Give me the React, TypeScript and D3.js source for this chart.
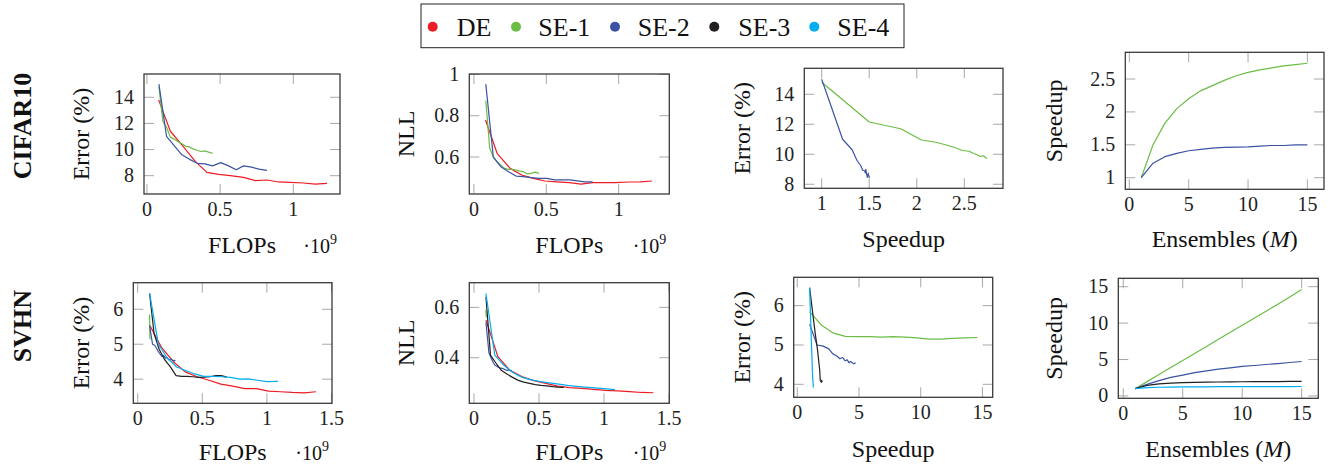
import React from "react";
import * as d3 from "d3";

// ---------- data ----------
const seriesNames = ["DE", "SE-1", "SE-2", "SE-3", "SE-4"];
const seriesColors = ["#ed1c24", "#6abd45", "#3a53a4", "#231f20", "#00aeef"];
const ensembles = [1, 2, 3, 4, 5, 6, 7, 8, 9, 10, 11, 12, 13, 14, 15];

// CIFAR10
const c10DeFlops = [0.08, 0.16, 0.25, 0.33, 0.41, 0.49, 0.57, 0.66, 0.74, 0.82, 0.9, 0.98, 1.07, 1.15, 1.23];
const c10DeErr = [13.8, 11.4, 10.2, 9.1, 8.25, 8.1, 8.0, 7.87, 7.62, 7.67, 7.52, 7.49, 7.44, 7.36, 7.41];
const c10DeNll = [0.779, 0.618, 0.545, 0.513, 0.497, 0.484, 0.48, 0.476, 0.469, 0.476, 0.476, 0.476, 0.479, 0.48, 0.484];

const c10Se1Speedup = [1, 1.5, 1.83, 2.05, 2.2, 2.32, 2.4, 2.48, 2.55, 2.6, 2.64, 2.67, 2.7, 2.72, 2.74];
const c10Se1Flops = [0.082, 0.109, 0.134, 0.16, 0.186, 0.212, 0.239, 0.265, 0.29, 0.315, 0.342, 0.369, 0.395, 0.422, 0.45];
const c10Se1Err = [14.8, 12.15, 11.7, 10.95, 10.8, 10.6, 10.45, 10.25, 10.2, 10.05, 9.95, 9.85, 9.9, 9.8, 9.72];
const c10Se1Nll = [0.873, 0.642, 0.6, 0.577, 0.561, 0.545, 0.54, 0.54, 0.537, 0.532, 0.529, 0.518, 0.521, 0.527, 0.521];

const c10Se2Speedup = [1, 1.22, 1.32, 1.37, 1.41, 1.43, 1.45, 1.46, 1.465, 1.47, 1.48, 1.49, 1.49, 1.5, 1.5];
const c10Se2Flops = [0.082, 0.134, 0.186, 0.239, 0.291, 0.344, 0.396, 0.449, 0.504, 0.558, 0.61, 0.66, 0.715, 0.766, 0.82];
const c10Se2Err = [15.0, 11.0, 10.3, 9.6, 9.25, 8.95, 8.9, 8.75, 9.0, 8.75, 8.45, 8.75, 8.65, 8.5, 8.41];
const c10Se2Nll = [0.953, 0.6, 0.553, 0.529, 0.508, 0.505, 0.5, 0.497, 0.497, 0.489, 0.489, 0.489, 0.485, 0.48, 0.48];

// SVHN
const svDeFlops = [0.092, 0.184, 0.276, 0.368, 0.46, 0.552, 0.644, 0.736, 0.828, 0.92, 1.012, 1.104, 1.196, 1.288, 1.38];
const svDeErr = [5.55, 4.91, 4.5, 4.21, 4.07, 3.97, 3.86, 3.8, 3.73, 3.73, 3.66, 3.64, 3.62, 3.61, 3.64];
const svDeNll = [0.55, 0.404, 0.35, 0.325, 0.309, 0.298, 0.287, 0.281, 0.278, 0.274, 0.27, 0.268, 0.265, 0.262, 0.261];

const svSe1Speedup = [1, 1.97, 2.94, 3.9, 4.87, 5.84, 6.8, 7.77, 8.74, 9.7, 10.67, 11.64, 12.6, 13.57, 14.6];
const svSe1Flops = [0.092, 0.0934, 0.0939, 0.0944, 0.0944, 0.0945, 0.0947, 0.0947, 0.0947, 0.0948, 0.0948, 0.0948, 0.0949, 0.0949, 0.0945];
const svSe1Err = [5.85, 5.5, 5.3, 5.22, 5.21, 5.21, 5.2, 5.21, 5.2, 5.18, 5.15, 5.15, 5.17, 5.18, 5.19];
const svSe1Nll = [0.59, 0.575, 0.57, 0.567, 0.565, 0.565, 0.564, 0.564, 0.563, 0.563, 0.563, 0.563, 0.563, 0.563, 0.563];

const svSe2Speedup = [1, 1.6, 2.1, 2.55, 2.86, 3.2, 3.45, 3.68, 3.86, 4.05, 4.18, 4.32, 4.45, 4.59, 4.73];
const svSe2Flops = [0.092, 0.115, 0.131, 0.144, 0.161, 0.173, 0.187, 0.2, 0.215, 0.227, 0.242, 0.256, 0.269, 0.281, 0.292];
const svSe2Err = [5.53, 5.0, 4.97, 4.9, 4.78, 4.72, 4.65, 4.68, 4.6, 4.62, 4.55, 4.58, 4.55, 4.52, 4.55];
const svSe2Nll = [0.54, 0.42, 0.4, 0.385, 0.37, 0.367, 0.362, 0.36, 0.358, 0.356, 0.352, 0.35, 0.352, 0.348, 0.35];

const svSe3Speedup = [1, 1.45, 1.65, 1.75, 1.82, 1.86, 1.89, 1.92, 1.94, 1.95, 1.96, 1.97, 1.98, 1.99, 2.0];
const svSe3Flops = [0.092, 0.127, 0.167, 0.21, 0.253, 0.297, 0.341, 0.383, 0.427, 0.472, 0.516, 0.56, 0.604, 0.647, 0.69];
const svSe3Err = [6.45, 5.3, 4.85, 4.55, 4.35, 4.1, 4.08, 4.08, 4.07, 4.05, 4.06, 4.07, 4.1, 4.1, 4.06];
const svSe3Nll = [0.642, 0.41, 0.38, 0.35, 0.335, 0.322, 0.31, 0.303, 0.298, 0.293, 0.29, 0.288, 0.285, 0.283, 0.282];

const svSe4Speedup = [1, 1.15, 1.2, 1.22, 1.24, 1.25, 1.26, 1.27, 1.27, 1.28, 1.28, 1.29, 1.29, 1.29, 1.3];
const svSe4Flops = [0.092, 0.16, 0.23, 0.302, 0.371, 0.442, 0.511, 0.58, 0.652, 0.719, 0.79, 0.856, 0.927, 0.998, 1.085];
const svSe4Err = [6.46, 5.0, 4.6, 4.35, 4.25, 4.15, 4.08, 4.08, 4.07, 4.05, 4.0, 4.01, 3.97, 3.93, 3.94];
const svSe4Nll = [0.655, 0.41, 0.37, 0.34, 0.322, 0.312, 0.305, 0.3, 0.295, 0.29, 0.286, 0.283, 0.28, 0.277, 0.273];

// tick labels
const flopsTicksC10 = [0, 0.5, 1];
const flopsTicksSv = [0, 0.5, 1, 1.5];
const errTicksC10 = [8, 10, 12, 14];
const nllTicksC10 = [0.6, 0.8, 1];
const speedTicksC10 = [1, 1.5, 2, 2.5];
const ensTicks = [0, 5, 10, 15];
const speedYTicksC10 = [1, 1.5, 2, 2.5];
const errTicksSv = [4, 5, 6];
const nllTicksSv = [0.4, 0.6];
const speedTicksSv = [0, 5, 10, 15];
const speedYTicksSv = [0, 5, 10, 15];

// ---------- layout ----------
const FONT = "'Liberation Serif', 'Times New Roman', serif";
const LABEL_SIZE = 24;

type S = { idx: number; xs: number[]; ys: number[] };
type PanelCfg = {
  rect: [number, number, number, number]; // left, top, right, bottom
  xDomain: [number, number];
  yDomain: [number, number];
  xTicks: number[];
  yTicks: number[];
  series: S[];
  xlabel: string;
  xlabelY: number;
  ylabel: string;
  ylabelX: number;
  sci?: boolean;
};

const panels: PanelCfg[] = [
  {
    rect: [144, 74, 340, 194], xDomain: [-0.02, 1.319], yDomain: [6.6, 15.78],
    xTicks: flopsTicksC10, yTicks: errTicksC10,
    series: [
      { idx: 0, xs: c10DeFlops, ys: c10DeErr },
      { idx: 1, xs: c10Se1Flops, ys: c10Se1Err },
      { idx: 2, xs: c10Se2Flops, ys: c10Se2Err },
    ],
    xlabel: "FLOPs", xlabelY: 252.7, ylabel: "Error (%)", ylabelX: 88.5, sci: true,
  },
  {
    rect: [469.3, 74, 669.3, 194], xDomain: [-0.032, 1.35], yDomain: [0.421, 1.002],
    xTicks: flopsTicksC10, yTicks: nllTicksC10,
    series: [
      { idx: 0, xs: c10DeFlops, ys: c10DeNll },
      { idx: 1, xs: c10Se1Flops, ys: c10Se1Nll },
      { idx: 2, xs: c10Se2Flops, ys: c10Se2Nll },
    ],
    xlabel: "FLOPs", xlabelY: 252.7, ylabel: "NLL", ylabelX: 414, sci: true,
  },
  {
    rect: [804.3, 68.3, 1003, 188.3], xDomain: [0.817, 2.907], yDomain: [7.73, 15.73],
    xTicks: speedTicksC10, yTicks: errTicksC10,
    series: [
      { idx: 1, xs: c10Se1Speedup, ys: c10Se1Err },
      { idx: 2, xs: c10Se2Speedup, ys: c10Se2Err },
    ],
    xlabel: "Speedup", xlabelY: 246.7, ylabel: "Error (%)", ylabelX: 750.3,
  },
  {
    rect: [1125.3, 52.3, 1324, 189.3], xDomain: [-0.34, 16.4], yDomain: [0.824, 2.906],
    xTicks: ensTicks, yTicks: speedYTicksC10,
    series: [
      { idx: 1, xs: ensembles, ys: c10Se1Speedup },
      { idx: 2, xs: ensembles, ys: c10Se2Speedup },
    ],
    xlabel: "ENS", xlabelY: 246.7, ylabel: "Speedup", ylabelX: 1062,
  },
  {
    rect: [133.3, 282.7, 332, 403.3], xDomain: [-0.034, 1.504], yDomain: [3.31, 6.76],
    xTicks: flopsTicksSv, yTicks: errTicksSv,
    series: [
      { idx: 0, xs: svDeFlops, ys: svDeErr },
      { idx: 1, xs: svSe1Flops, ys: svSe1Err },
      { idx: 2, xs: svSe2Flops, ys: svSe2Err },
      { idx: 3, xs: svSe3Flops, ys: svSe3Err },
      { idx: 4, xs: svSe4Flops, ys: svSe4Err },
    ],
    xlabel: "FLOPs", xlabelY: 460, ylabel: "Error (%)", ylabelX: 88.7, sci: true,
  },
  {
    rect: [469.3, 282.7, 669.3, 403.3], xDomain: [-0.036, 1.502], yDomain: [0.219, 0.698],
    xTicks: flopsTicksSv, yTicks: nllTicksSv,
    series: [
      { idx: 0, xs: svDeFlops, ys: svDeNll },
      { idx: 1, xs: svSe1Flops, ys: svSe1Nll },
      { idx: 2, xs: svSe2Flops, ys: svSe2Nll },
      { idx: 3, xs: svSe3Flops, ys: svSe3Nll },
      { idx: 4, xs: svSe4Flops, ys: svSe4Nll },
    ],
    xlabel: "FLOPs", xlabelY: 460, ylabel: "NLL", ylabelX: 414, sci: true,
  },
  {
    rect: [793.7, 277.3, 992.7, 397.3], xDomain: [-0.29, 15.83], yDomain: [3.67, 6.72],
    xTicks: speedTicksSv, yTicks: errTicksSv,
    series: [
      { idx: 1, xs: svSe1Speedup, ys: svSe1Err },
      { idx: 2, xs: svSe2Speedup, ys: svSe2Err },
      { idx: 3, xs: svSe3Speedup, ys: svSe3Err },
      { idx: 4, xs: svSe4Speedup, ys: svSe4Err },
    ],
    xlabel: "Speedup", xlabelY: 456.7, ylabel: "Error (%)", ylabelX: 750.3,
  },
  {
    rect: [1118.3, 278.3, 1318.3, 398.3], xDomain: [-0.42, 16.4], yDomain: [-0.32, 16.15],
    xTicks: ensTicks, yTicks: speedYTicksSv,
    series: [
      { idx: 1, xs: ensembles, ys: svSe1Speedup },
      { idx: 2, xs: ensembles, ys: svSe2Speedup },
      { idx: 3, xs: ensembles, ys: svSe3Speedup },
      { idx: 4, xs: ensembles, ys: svSe4Speedup },
    ],
    xlabel: "ENS", xlabelY: 456.7, ylabel: "Speedup", ylabelX: 1062,
  },
];

const TICK = 10;

function Panel({ cfg }: { cfg: PanelCfg }) {
  const [l, t, r, b] = cfg.rect;
  const x = d3.scaleLinear().domain(cfg.xDomain).range([l, r]);
  const y = d3.scaleLinear().domain(cfg.yDomain).range([b, t]);
  const line = d3
    .line<[number, number]>()
    .x((d) => x(d[0]))
    .y((d) => y(d[1]));
  const cx = (l + r) / 2;
  const cy = (t + b) / 2;
  return (
    <g>
      {cfg.xTicks.map((v) => (
        <g key={"xt" + v}>
          <line x1={x(v)} x2={x(v)} y1={b} y2={b - TICK} stroke="#a8a8a8" strokeWidth={1} />
          <line x1={x(v)} x2={x(v)} y1={t} y2={t + TICK} stroke="#a8a8a8" strokeWidth={1} />
          <text x={x(v)} y={b + 21.5} textAnchor="middle" fontSize={20} fontFamily={FONT} fill="#222">
            {String(v)}
          </text>
        </g>
      ))}
      {cfg.yTicks.map((v) => (
        <g key={"yt" + v}>
          <line x1={l} x2={l + TICK} y1={y(v)} y2={y(v)} stroke="#a8a8a8" strokeWidth={1} />
          <line x1={r} x2={r - TICK} y1={y(v)} y2={y(v)} stroke="#a8a8a8" strokeWidth={1} />
          <text x={l - 10} y={y(v) + 6.5} textAnchor="end" fontSize={20} fontFamily={FONT} fill="#222">
            {String(v)}
          </text>
        </g>
      ))}
      {cfg.series.map((s) => (
        <path
          key={"s" + s.idx}
          d={line(s.xs.map((xv, i) => [xv, s.ys[i]] as [number, number])) || ""}
          fill="none"
          stroke={seriesColors[s.idx]}
          strokeWidth={1.2}
          strokeLinejoin="round"
        />
      ))}
      <rect x={l} y={t} width={r - l} height={b - t} fill="none" stroke="#3a3a3a" strokeWidth={1.3} />
      <text x={cx} y={cfg.xlabelY} textAnchor="middle" fontSize={LABEL_SIZE} fontFamily={FONT} fill="#111">
        {cfg.xlabel === "ENS" ? (
          <>
            Ensembles (<tspan fontStyle="italic">M</tspan>)
          </>
        ) : (
          cfg.xlabel
        )}
      </text>
      {cfg.sci && (
        <text x={r - 3} y={cfg.xlabelY} textAnchor="end" fontSize={20} fontFamily={FONT} fill="#111">
          ·10<tspan fontSize={14} dy={-9}>9</tspan>
        </text>
      )}
      <text
        transform={`translate(${cfg.ylabelX},${cy}) rotate(-90)`}
        textAnchor="middle"
        fontSize={LABEL_SIZE}
        fontFamily={FONT}
        fill="#111"
      >
        {cfg.ylabel}
      </text>
    </g>
  );
}

const legendDotX = [432.7, 516, 615, 714.3, 814.3];
const legendTextX = [456.7, 538.3, 637.7, 738.3, 837.3];

export default function App() {
  return (
    <svg
      width={1330}
      height={465}
      style={{ position: "absolute", left: 0, top: 0, background: "#fff" }}
    >
      <rect x={0} y={0} width={1330} height={465} fill="#fff" />
      <rect x={421} y={4} width={483} height={43.7} fill="#fff" stroke="#222" strokeWidth={1} />
      {seriesNames.map((n, i) => (
        <g key={n}>
          <circle cx={legendDotX[i]} cy={26.7} r={5} fill={seriesColors[i]} />
          <text x={legendTextX[i]} y={35.5} fontSize={26} fontFamily={FONT} fill="#111">
            {n}
          </text>
        </g>
      ))}
      <text
        transform="translate(30.5,126) rotate(-90)"
        textAnchor="middle"
        fontSize={26}
        fontWeight="bold"
        fontFamily={FONT}
        fill="#111"
      >
        CIFAR10
      </text>
      <text
        transform="translate(30.5,326) rotate(-90)"
        textAnchor="middle"
        fontSize={26}
        fontWeight="bold"
        fontFamily={FONT}
        fill="#111"
      >
        SVHN
      </text>
      {panels.map((p, i) => (
        <Panel key={i} cfg={p} />
      ))}
    </svg>
  );
}
